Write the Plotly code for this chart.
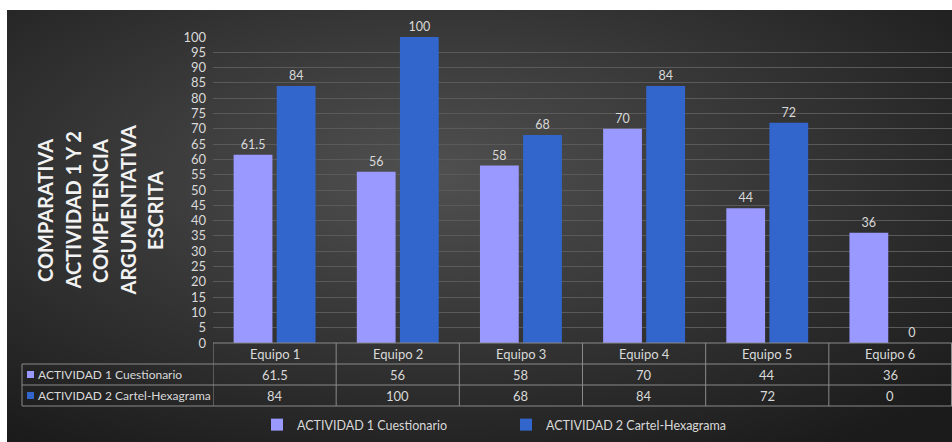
import base64
import plotly.graph_objects as go

# Chart data
equipos = ["Equipo 1", "Equipo 2", "Equipo 3", "Equipo 4", "Equipo 5", "Equipo 6"]
actividad1 = [61.5, 56, 58, 70, 44, 36]
actividad2 = [84, 100, 68, 84, 72, 0]
serie1_nombre = "ACTIVIDAD 1 Cuestionario"
serie2_nombre = "ACTIVIDAD 2 Cartel-Hexagrama"
titulo_lineas = ["COMPARATIVA", "ACTIVIDAD 1 Y 2", "COMPETENCIA", "ARGUMENTATIVA", "ESCRITA"]
y_ticks = list(range(0, 101, 5))

W, H = 952, 442
PL, PR, PT, PB = 213, 952, 37, 343   # plot area in pixels
COLOR1 = "#9999FF"
COLOR2 = "#3366CC"
TXT = "#d9d9d9"
GRID = "#5a5a5a"
BORDER = "#8a8a8a"
FONT = "Lato"


def px_x(p):
    return (p - PL) / (PR - PL)


def px_y(p):
    return (PB - p) / (PB - PT)


fig = go.Figure()
fig.add_trace(go.Bar(
    x=equipos, y=actividad1, name=serie1_nombre,
    marker=dict(color=COLOR1, line=dict(width=0)),
    text=[f"{v:g}" for v in actividad1], textposition="outside",
    textfont=dict(color=TXT, size=12.5, family=FONT), cliponaxis=False,
))
fig.add_trace(go.Bar(
    x=equipos, y=actividad2, name=serie2_nombre,
    marker=dict(color=COLOR2, line=dict(width=0)),
    text=[f"{v:g}" for v in actividad2], textposition="outside",
    textfont=dict(color=TXT, size=12.5, family=FONT), cliponaxis=False,
))

# Radial-gradient backdrop of the chart area
svg = (
    '<svg xmlns="http://www.w3.org/2000/svg" width="945" height="432">'
    '<defs><radialGradient id="g" cx="45%" cy="38%" r="75%">'
    '<stop offset="0" stop-color="#505050"/>'
    '<stop offset="1" stop-color="#1b1b1b"/>'
    '</radialGradient></defs>'
    '<rect width="945" height="432" fill="url(#g)"/></svg>'
)
bg_src = "data:image/svg+xml;base64," + base64.b64encode(svg.encode()).decode()

shapes = []
annotations = []

# Data table under the plot
row_top, row1, row2, row_bot = 343, 364, 385, 406
tbl_left = 22
line = dict(color=BORDER, width=1)
n = len(equipos)
# horizontal rules
shapes.append(dict(type="line", xref="x", yref="paper", x0=-0.5, x1=n - 0.5,
                   y0=px_y(row_top), y1=px_y(row_top), line=line))
for ry in (row1, row2, row_bot):
    shapes.append(dict(type="line", xref="paper", yref="paper", x0=px_x(tbl_left), x1=1,
                       y0=px_y(ry), y1=px_y(ry), line=line))
# vertical rules
shapes.append(dict(type="line", xref="paper", yref="paper", x0=px_x(tbl_left), x1=px_x(tbl_left),
                   y0=px_y(row1), y1=px_y(row_bot), line=line))
for i in range(n + 1):
    xb = i - 0.5
    if i == n:
        xb = n - 0.5 - 0.004
    shapes.append(dict(type="line", xref="x", yref="paper", x0=xb, x1=xb,
                       y0=px_y(row_top), y1=px_y(row_bot), line=line))

cell_font = dict(color=TXT, size=13, family=FONT)
label_font = dict(color=TXT, size=12, family=FONT)
for i, eq in enumerate(equipos):
    for text, (ya, yb) in ((eq, (row_top, row1)),
                           (f"{actividad1[i]:g}", (row1, row2)),
                           (f"{actividad2[i]:g}", (row2, row_bot))):
        annotations.append(dict(x=i, y=px_y((ya + yb) / 2), xref="x", yref="paper",
                                xanchor="center", yanchor="middle",
                                text=text, showarrow=False, font=cell_font))

# series keys in the table
for (ry0, ry1), col, name in (((row1, row2), COLOR1, serie1_nombre),
                              ((row2, row_bot), COLOR2, serie2_nombre)):
    cy = (ry0 + ry1) / 2
    shapes.append(dict(type="rect", xref="paper", yref="paper",
                       x0=px_x(27), x1=px_x(34), y0=px_y(cy + 3.5), y1=px_y(cy - 3.5),
                       fillcolor=col, line=dict(width=0)))
    annotations.append(dict(x=px_x(36), y=px_y(cy), xref="paper", yref="paper",
                            xanchor="left", yanchor="middle", text=name,
                            showarrow=False, font=label_font))

# vertical title, one rotated line per row of text
for k, txt in enumerate(titulo_lineas):
    annotations.append(dict(
        x=px_x(45 + 27.5 * k), y=px_y(211), xref="paper", yref="paper", text=txt,
        xanchor="center", yanchor="middle",
        textangle=-90, showarrow=False,
        font=dict(color="#f2f2f2", size=20, family=FONT, weight="bold"),
    ))

fig.update_layout(
    width=W, height=H,
    margin=dict(l=PL, r=W - PR, t=PT, b=H - PB, autoexpand=False),
    paper_bgcolor="white",
    plot_bgcolor="rgba(0,0,0,0)",
    barmode="group", bargap=0.30, bargroupgap=0.10,
    images=[dict(source=bg_src, xref="paper", yref="paper", x=px_x(7), y=px_y(10),
                 sizex=945 / (PR - PL), sizey=432 / (PB - PT), xanchor="left", yanchor="top",
                 sizing="stretch", layer="below")],
    shapes=shapes,
    annotations=annotations,
    showlegend=True,
    legend=dict(orientation="h", x=px_x(257), y=px_y(425), xanchor="left", yanchor="middle",
                entrywidth=204, entrywidthmode="pixels", bgcolor="rgba(0,0,0,0)",
                font=dict(color=TXT, size=12.5, family=FONT), itemwidth=30),
    font=dict(family=FONT, color=TXT),
)
fig.update_xaxes(showticklabels=False, showgrid=False, zeroline=False, showline=False,
                 range=[-0.5, n - 0.5], fixedrange=True)
fig.update_yaxes(range=[0, 100], tickvals=y_ticks, showgrid=True, gridcolor=GRID, gridwidth=1,
                 zeroline=False, showline=False, ticklabelstandoff=6,
                 tickfont=dict(color=TXT, size=13, family=FONT))

fig.write_html("out.html")
